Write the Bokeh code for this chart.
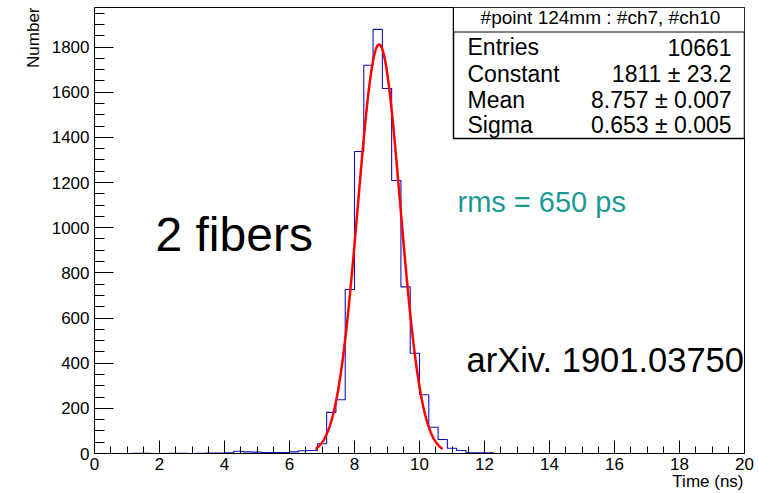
import numpy as np
from bokeh.plotting import figure
from bokeh.models import Range1d, FixedTicker, Label, BoxAnnotation, Title
from bokeh.embed import file_html
from bokeh.resources import INLINE

# ---- data ----
x_min, x_max, n_bins = 0.0, 20.0, 70
counts = [0, 0, 0, 0, 1, 1, 0, 0, 1, 1,
          0, 1, 2, 2, 3, 10, 7, 6, 4, 4,
          4, 7, 12, 13, 43, 182, 238, 726, 1337, 1719,
          1878, 1616, 1209, 738, 444, 260, 116, 62, 23, 13,
          3, 3, 3, 0, 0, 0, 0, 0, 0, 0,
          0, 0, 0, 0, 0, 0, 0, 0, 0, 0,
          0, 0, 0, 0, 0, 0, 0, 0, 0, 0]
fit_constant, fit_mean, fit_sigma = 1811.0, 8.757, 0.653
fit_range = [6.798, 10.716]
x_ticks = [0, 2, 4, 6, 8, 10, 12, 14, 16, 18, 20]
y_ticks = [0, 200, 400, 600, 800, 1000, 1200, 1400, 1600, 1800]
x_title = "Time (ns)"
y_title = "Number"
stat_title = "#point 124mm : #ch7, #ch10"
stat_names = ["Entries", "Constant", "Mean", "Sigma"]
stat_values = ["10661", "1811 \u00b1 23.2", "8.757 \u00b1 0.007", "0.653 \u00b1 0.005"]

FONT = "Liberation Sans"

edges = np.linspace(x_min, x_max, n_bins + 1)
hx = np.repeat(edges, 2)
hy = np.concatenate([[0], np.repeat(counts, 2), [0]])

fx = np.linspace(fit_range[0], fit_range[1], 300)
fy = fit_constant * np.exp(-0.5 * ((fx - fit_mean) / fit_sigma) ** 2)

y_top = 1975
FL, FR, FT, FB = 94, 744, 7, 453   # frame edges in page pixels
W, H = 759, 493
p = figure(width=W, height=H, output_backend="svg", toolbar_location=None,
           title=None, x_range=Range1d(x_min, x_max), y_range=Range1d(0, y_top),
           min_border_left=FL, min_border_right=W - FR, min_border_top=FT,
           min_border_bottom=H - FB)
p.xgrid.visible = False
p.ygrid.visible = False
p.outline_line_color = "black"
p.outline_line_width = 1
p.outline_line_alpha = 1.0
p.background_fill_color = "white"
p.border_fill_color = "white"

for ax in (p.xaxis[0], p.yaxis[0]):
    ax.axis_line_color = "black"
    ax.major_tick_line_color = "black"
    ax.minor_tick_line_color = "black"
    ax.major_tick_out = 0
    ax.minor_tick_out = 0
    ax.major_label_text_font = FONT
    ax.major_label_text_font_size = "17px"
    ax.major_label_text_color = "black"

p.xaxis.ticker = FixedTicker(ticks=x_ticks, minor_ticks=list(np.arange(0, 20.01, 0.5)))
p.yaxis.ticker = FixedTicker(ticks=y_ticks, minor_ticks=list(np.arange(0, 1951, 50)))
p.xaxis.major_tick_in = 13
p.xaxis.minor_tick_in = 7
p.yaxis.major_tick_in = 19
p.yaxis.minor_tick_in = 10
p.xaxis.major_label_standoff = 4
p.yaxis.major_label_standoff = 5

# axis titles, right-aligned at the axis ends
p.add_layout(Title(text=x_title, align="right", text_font=FONT, text_font_size="17px",
                   text_font_style="normal", text_color="black", standoff=-5, offset=1),
             "below")
p.add_layout(Title(text=y_title, align="right", text_font=FONT, text_font_size="17px",
                   text_font_style="normal", text_color="black", standoff=11),
             "left")

# histogram and fit
p.line(hx, hy, line_color="#1010c0", line_width=1.1)
p.line(fx, fy, line_color="#ff0000", line_width=2.5)

px_per = (FB - FT) / y_top
def ypix(page_y):
    return (FB - page_y) / px_per
def xpix(page_x):
    return (page_x - FL) / 32.5

SHIFT = 0.35  # empirical baseline correction (fraction of font size)

def label(xp, base_p, text, size, align="left", color="black"):
    p.add_layout(Label(x=xpix(xp), y=ypix(base_p - SHIFT * size), text=text,
                       text_font=FONT, text_font_size=f"{size}px", text_align=align,
                       text_color=color, text_baseline="alphabetic"))

# stats box
p.add_layout(BoxAnnotation(left=xpix(453), right=x_max, bottom=ypix(138), top=y_top,
                           fill_color="white", fill_alpha=1.0, line_color="black",
                           line_alpha=1.0, line_width=1.5))
p.add_layout(BoxAnnotation(left=xpix(453), right=x_max, bottom=ypix(31.5), top=y_top,
                           fill_color="white", fill_alpha=1.0, line_color="black",
                           line_alpha=1.0, line_width=1))
label(600, 24, stat_title, 19, align="center")
baselines = [55, 81.5, 108, 133]
for name, val, b in zip(stat_names, stat_values, baselines):
    label(467, b, name, 23)
    label(731, b, val, 23, align="right")

label(457, 212, "rms = 650 ps", 29, color="#1b9a93")
label(155, 251, "2 fibers", 48)
label(466, 372, "arXiv. 1901.03750", 34.5)

open("out.html", "w").write(file_html(p, INLINE))
